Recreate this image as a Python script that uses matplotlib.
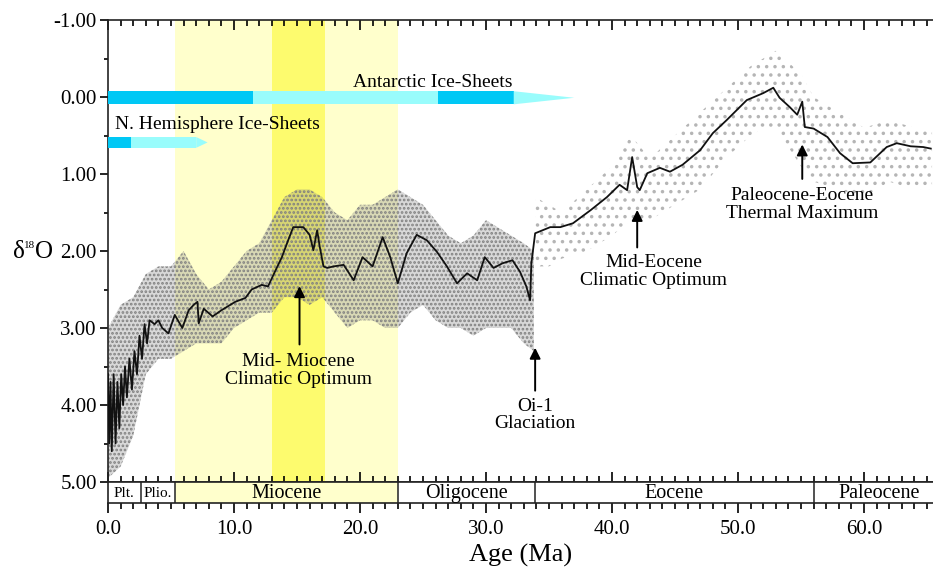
import matplotlib.pyplot as plt
from matplotlib.ticker import MultipleLocator, FormatStrFormatter
from matplotlib.patches import FancyArrowPatch

plt.rcParams['font.family'] = 'Liberation Serif'
plt.rcParams['hatch.linewidth'] = 1.3

# smoothed d18O curve (age in Ma, per mil)
age_curve = [0.0, 0.1, 0.2, 0.3, 0.45, 0.6, 0.75, 0.9, 1.05, 1.2,
             1.35, 1.5, 1.7, 1.9, 2.1, 2.3, 2.5, 2.7, 2.9, 3.1,
             3.3, 3.7, 4.0, 4.3, 4.8, 5.3, 5.9, 6.4, 6.8, 7.1,
             7.2, 7.6, 8.3, 9.0, 10.1, 10.9, 11.4, 12.2, 12.7, 13.3,
             13.8, 14.3, 14.7, 15.5, 16.0, 16.3, 16.6, 16.8, 17.1, 17.4,
             17.9, 18.7, 19.5, 20.2, 21.0, 21.8, 22.4, 23.0, 23.7, 24.5,
             25.3, 26.1, 26.9, 27.7, 28.5, 29.3, 29.9, 30.6, 31.3, 32.1,
             32.7, 33.2, 33.5, 33.6, 33.9, 34.5, 35.1, 35.9, 36.9, 38.3,
             39.6, 40.6, 41.2, 41.6, 42.0, 42.2, 42.8, 43.8, 44.6, 45.6,
             47.0, 48.0, 49.1, 49.9, 50.7, 52.0, 52.8, 53.3, 54.1, 54.7,
             55.1, 55.3, 56.0, 57.1, 58.1, 59.1, 60.5, 61.8, 62.6, 63.7,
             64.7, 65.3]
d18o_curve = [3.6, 4.5, 3.7, 4.6, 3.6, 4.5, 3.7, 4.3, 3.6, 4.0,
              3.5, 3.9, 3.4, 3.8, 3.3, 3.6, 3.1, 3.4, 2.95, 3.2,
              2.9, 2.95, 2.9, 3.0, 3.07, 2.83, 3.0, 2.77, 2.7, 2.66,
              2.94, 2.75, 2.85, 2.77, 2.66, 2.61, 2.5, 2.44, 2.46, 2.25,
              2.08, 1.86, 1.69, 1.69, 1.79, 1.99, 1.73, 1.94, 2.2, 2.22,
              2.2, 2.18, 2.38, 2.08, 2.2, 1.82, 2.08, 2.42, 2.03, 1.79,
              1.86, 2.01, 2.2, 2.42, 2.29, 2.38, 2.08, 2.22, 2.16, 2.12,
              2.27, 2.46, 2.64, 2.16, 1.77, 1.73, 1.69, 1.69, 1.64, 1.47,
              1.3, 1.14, 1.21, 0.78, 1.17, 1.21, 0.99, 0.92, 0.97, 0.88,
              0.69, 0.47, 0.3, 0.17, 0.04, -0.05, -0.12, 0.01, 0.13, 0.23,
              0.06, 0.39, 0.41, 0.52, 0.73, 0.86, 0.85, 0.65, 0.6, 0.64,
              0.65, 0.67]

# envelope of the raw measurements (dense part, 0-33.8 Ma)
env_age_dense = [0, 1, 2, 3, 4, 5, 6, 7, 8, 9, 10, 11, 12, 13, 14, 15, 16, 17,
                 18, 19, 20, 21, 22, 23, 24, 25, 26, 27, 28, 29, 30, 31, 32, 33, 33.8]
env_top_dense = [3.0, 2.7, 2.6, 2.3, 2.2, 2.2, 2.0, 2.3, 2.5, 2.4, 2.2, 2.0, 1.9,
                 1.6, 1.3, 1.2, 1.2, 1.3, 1.5, 1.6, 1.4, 1.4, 1.3, 1.2, 1.3, 1.4,
                 1.6, 1.8, 1.9, 1.8, 1.6, 1.7, 1.8, 1.9, 2.0]
env_bot_dense = [4.95, 4.8, 4.4, 3.6, 3.4, 3.4, 3.3, 3.2, 3.2, 3.2, 3.0, 2.9, 2.8,
                 2.8, 2.6, 2.6, 2.7, 2.6, 2.8, 3.0, 2.9, 2.9, 3.0, 3.0, 2.8, 2.7,
                 2.9, 3.0, 3.0, 3.1, 3.0, 3.0, 3.0, 3.2, 3.3]
# sparse part (33.9-65.4 Ma)
env_age_sparse = [33.9, 35, 36, 38, 40, 41.5, 43, 45, 47, 49, 51, 52, 53, 55,
                  56, 58, 60, 62, 64, 65.4]
env_top_sparse = [1.3, 1.4, 1.5, 1.2, 0.9, 0.5, 0.8, 0.5, 0.2, -0.1, -0.4, -0.5,
                  -0.6, -0.3, 0.0, 0.2, 0.4, 0.3, 0.4, 0.4]
env_bot_sparse = [2.2, 2.2, 2.1, 2.0, 1.8, 1.6, 1.6, 1.4, 1.2, 0.8, 0.5, 0.4, 0.4,
                  0.9, 1.1, 1.2, 1.3, 1.1, 1.2, 1.2]

# epochs
epoch_names = ['Plt.', 'Plio.', 'Miocene', 'Oligocene', 'Eocene', 'Paleocene']
epoch_start = [0.0, 2.6, 5.3, 23.0, 33.9, 56.0]
epoch_end = [2.6, 5.3, 23.0, 33.9, 56.0, 66.0]
epoch_label_x = [1.3, 3.95, 14.15, 28.45, 44.95, 61.2]
epoch_size = [11, 11, 14.5, 14.5, 14.5, 14.5]

miocene_band = (5.3, 23.0)
mmco_band = (13.0, 17.2)

# ice-sheet bars: (start, end, full glaciation?)
antarctic_segments = [(0.0, 11.5, True), (11.5, 26.2, False), (26.2, 32.2, True)]
antarctic_tip = 37.0
nh_segments = [(0.0, 1.8, True), (1.8, 7.0, False)]
nh_tip = 7.9

# events: label, arrow age, arrow tail, arrow tip, text x, text y
events = [
    ('Mid- Miocene\nClimatic Optimum', 15.2, 3.25, 2.42, 15.1, 3.55),
    ('Oi-1\nGlaciation', 33.9, 3.85, 3.22, 33.9, 4.13),
    ('Mid-Eocene\nClimatic Optimum', 42.0, 1.99, 1.43, 43.3, 2.27),
    ('Paleocene-Eocene\nThermal Maximum', 55.1, 1.10, 0.58, 55.1, 1.40),
]

COLOR_FULL = '#00C8F5'
COLOR_PART = '#99FCFC'
COLOR_MIO = '#FFFFCC'
COLOR_MMCO = '#FDFB6E'

W, H = 933, 572
def box(x0, y0, x1, y1):
    return [x0 / W, 1 - y1 / H, (x1 - x0) / W, (y1 - y0) / H]

fig = plt.figure(figsize=(9.33, 5.72), dpi=100)
ax = fig.add_axes(box(108, 20, 933, 482))
axe = fig.add_axes(box(108, 482, 933, 503))
xmax = (933 - 108) / 12.6

# ---- main panel ----
ax.axvspan(*miocene_band, color=COLOR_MIO, lw=0, zorder=0)
ax.axvspan(*mmco_band, color=COLOR_MMCO, lw=0, zorder=0)

ax.fill_between(env_age_dense, env_top_dense, env_bot_dense,
                facecolor=(0.5, 0.5, 0.5, 0.3), edgecolor='#808080',
                hatch='....', linewidth=0, zorder=1)
ax.fill_between(env_age_sparse, env_top_sparse, env_bot_sparse,
                facecolor='none', edgecolor='#b5b5b5',
                hatch='..', linewidth=0, zorder=1)
ax.plot(age_curve, d18o_curve, color='#111111', lw=1.3, zorder=3)

def ice_bar(segments, tip, yc, hh):
    for s, e, full in segments:
        ax.fill([s, e, e, s], [yc - hh, yc - hh, yc + hh, yc + hh],
                color=COLOR_FULL if full else COLOR_PART, lw=0, zorder=4)
    last = segments[-1][1]
    ax.fill([last, tip, last], [yc - hh, yc, yc + hh], color=COLOR_PART, lw=0, zorder=4)

ice_bar(antarctic_segments, antarctic_tip, 0.01, 0.085)
ice_bar(nh_segments, nh_tip, 0.59, 0.07)
ax.text(25.75, -0.19, 'Antarctic Ice-Sheets', ha='center', va='center', fontsize=14, zorder=5)
ax.text(0.55, 0.36, 'N. Hemisphere Ice-Sheets', ha='left', va='center', fontsize=14, zorder=5)

for label, xa, tail, tip, tx, ty in events:
    ax.add_patch(FancyArrowPatch((xa, tail), (xa, tip), arrowstyle='-|>',
                                 mutation_scale=16, lw=1.4, color='black', zorder=5))
    ax.text(tx, ty, label, ha='center', va='center', fontsize=14, linespacing=1.05, zorder=5)

ax.set_xlim(0, xmax)
ax.set_ylim(5, -1)
ax.yaxis.set_major_locator(MultipleLocator(1))
ax.yaxis.set_minor_locator(MultipleLocator(0.5))
ax.yaxis.set_major_formatter(FormatStrFormatter('%.2f'))
ax.xaxis.set_major_locator(MultipleLocator(10))
ax.xaxis.set_minor_locator(MultipleLocator(1))
ax.tick_params(axis='y', which='both', direction='out', labelsize=15, pad=2)
ax.tick_params(axis='y', which='major', length=6, width=1.2)
ax.tick_params(axis='y', which='minor', length=3, width=1.2)
ax.tick_params(axis='x', which='both', top=True, bottom=True, direction='in',
               labelbottom=False, width=1.2)
ax.tick_params(axis='x', which='major', length=7)
ax.tick_params(axis='x', which='minor', length=4)
for side in ['left', 'top', 'bottom']:
    ax.spines[side].set_linewidth(1.2)
    ax.spines[side].set_color('#222222')
ax.spines['right'].set_visible(False)

# y label: delta, superscript 18, O
fig.text(13 / W, 1 - 258 / H, 'δ', ha='left', va='baseline', fontsize=18)
fig.text(24 / W, 1 - 248 / H, '18', ha='left', va='baseline', fontsize=8)
fig.text(34.5 / W, 1 - 258 / H, 'O', ha='left', va='baseline', fontsize=18)

# ---- epoch bar ----
for name, s, e, lx, fs in zip(epoch_names, epoch_start, epoch_end, epoch_label_x, epoch_size):
    if name == 'Miocene':
        axe.axvspan(s, e, color=COLOR_MIO, lw=0, zorder=0)
    if s > 0:
        axe.axvline(s, color='#333333', lw=1.2)
    axe.text(lx, 0.45, name, ha='center', va='center', fontsize=fs)

axe.set_xlim(0, xmax)
axe.set_ylim(0, 1)
axe.set_yticks([])
axe.xaxis.set_major_locator(MultipleLocator(10))
axe.xaxis.set_minor_locator(MultipleLocator(1))
axe.xaxis.set_major_formatter(FormatStrFormatter('%.1f'))
axe.tick_params(axis='x', which='both', direction='out', labelsize=15, width=1.2, pad=5)
axe.tick_params(axis='x', which='major', length=7)
axe.tick_params(axis='x', which='minor', length=4)
for side in ['left', 'top', 'bottom']:
    axe.spines[side].set_linewidth(1.2)
    axe.spines[side].set_color('#222222')
axe.spines['right'].set_visible(False)
axe.set_xlabel('Age (Ma)', fontsize=19, labelpad=4)

fig.savefig('out.png', dpi=100)
